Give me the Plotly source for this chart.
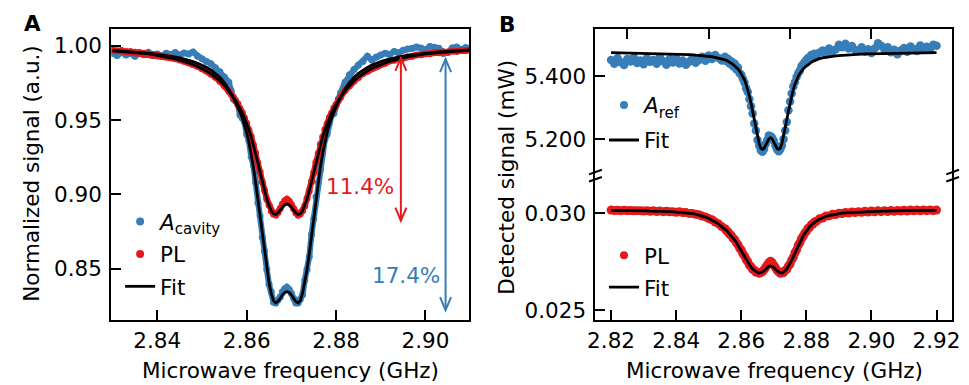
import plotly.graph_objects as go

# ---------------- data ----------------
FREQ_A = [
    2.830, 2.831, 2.832, 2.833, 2.834, 2.835, 2.836, 2.837, 2.838, 2.839,
    2.840, 2.841, 2.842, 2.843, 2.844, 2.845, 2.846, 2.847, 2.848, 2.849,
    2.850, 2.851, 2.852, 2.853, 2.854, 2.855, 2.856,
    2.8565, 2.8570, 2.8575, 2.8580, 2.8585, 2.8590, 2.8595, 2.8600, 2.8605, 2.8610,
    2.8615, 2.8620, 2.8625, 2.8630, 2.8635, 2.8640, 2.8645, 2.8650, 2.8655, 2.8660,
    2.8665, 2.8670, 2.8675, 2.8680, 2.8685, 2.8690, 2.8695, 2.8700, 2.8705, 2.8710,
    2.8715, 2.8720, 2.8725, 2.8730, 2.8735, 2.8740, 2.8745, 2.8750, 2.8755, 2.8760,
    2.8765, 2.8770, 2.8775, 2.8780, 2.8785, 2.8790, 2.8795, 2.8800, 2.8805, 2.8810,
    2.882, 2.883, 2.884, 2.885, 2.886, 2.887, 2.888, 2.889, 2.890, 2.891,
    2.892, 2.893, 2.894, 2.895, 2.896, 2.897, 2.898, 2.899, 2.900, 2.901,
    2.902, 2.903, 2.904, 2.905, 2.906, 2.907, 2.908, 2.909, 2.910,
]
CAVITY_A = [
    0.9950, 0.9935, 0.9955, 0.9938, 0.9948, 0.9930, 0.9952, 0.9940, 0.9956, 0.9935,
    0.9945, 0.9930, 0.9950, 0.9942, 0.9955, 0.9938, 0.9952, 0.9945, 0.9958, 0.9930,
    0.9912, 0.9895, 0.9880, 0.9852, 0.9826, 0.9790, 0.9755,
    0.9700, 0.9642, 0.9632, 0.9610, 0.9535, 0.9515, 0.9490, 0.9405, 0.9360, 0.9255,
    0.9195, 0.9080, 0.8945, 0.8855, 0.8710, 0.8620, 0.8495, 0.8395, 0.8345, 0.8275,
    0.8270, 0.8290, 0.8310, 0.8345, 0.8365, 0.8375, 0.8360, 0.8335, 0.8300, 0.8270,
    0.8270, 0.8295, 0.8325, 0.8425, 0.8495, 0.8580, 0.8730, 0.8835, 0.8985, 0.9080,
    0.9165, 0.9285, 0.9370, 0.9405, 0.9480, 0.9535, 0.9545, 0.9600, 0.9642, 0.9682,
    0.9755, 0.9805, 0.9840, 0.9870, 0.9895, 0.9930, 0.9905, 0.9925, 0.9938, 0.9950,
    0.9942, 0.9962, 0.9952, 0.9970, 0.9978, 0.9982, 0.9992, 0.9985, 0.9972, 0.9996,
    0.9990, 0.9984, 0.9948, 0.9955, 0.9986, 0.9992, 0.9975, 0.9988, 0.9980,
]
PL_A = [
    0.9970, 0.9966, 0.9968, 0.9962, 0.9961, 0.9957, 0.9955, 0.9950, 0.9947, 0.9942,
    0.9938, 0.9932, 0.9927, 0.9920, 0.9913, 0.9905, 0.9896, 0.9886, 0.9874, 0.9862,
    0.9846, 0.9830, 0.9810, 0.9788, 0.9762, 0.9731, 0.9695,
    0.9675, 0.9656, 0.9630, 0.9608, 0.9578, 0.9551, 0.9514, 0.9479, 0.9433, 0.9389,
    0.9333, 0.9279, 0.9213, 0.9152, 0.9083, 0.9027, 0.8968, 0.8927, 0.8888, 0.8868,
    0.8862, 0.8878, 0.8905, 0.8935, 0.8958, 0.8968, 0.8955, 0.8932, 0.8903, 0.8876,
    0.8862, 0.8868, 0.8891, 0.8923, 0.8972, 0.9023, 0.9087, 0.9148, 0.9217, 0.9276,
    0.9337, 0.9386, 0.9437, 0.9476, 0.9518, 0.9548, 0.9582, 0.9605, 0.9634, 0.9653,
    0.9699, 0.9731, 0.9765, 0.9787, 0.9813, 0.9828, 0.9849, 0.9859, 0.9876, 0.9883,
    0.9897, 0.9902, 0.9914, 0.9917, 0.9927, 0.9929, 0.9938, 0.9939, 0.9947, 0.9947,
    0.9954, 0.9953, 0.9960, 0.9958, 0.9964, 0.9962, 0.9968, 0.9966, 0.9972,
]
FIT_CAVITY_A = [
    0.9969, 0.9967, 0.9965, 0.9963, 0.9961, 0.9959, 0.9956, 0.9953, 0.9950, 0.9947,
    0.9943, 0.9939, 0.9935, 0.9930, 0.9924, 0.9918, 0.9911, 0.9903, 0.9894, 0.9883,
    0.9870, 0.9855, 0.9837, 0.9815, 0.9788, 0.9753, 0.9710,
    0.9680, 0.9652, 0.9622, 0.9590, 0.9555, 0.9515, 0.9470, 0.9415, 0.9350, 0.9275,
    0.9185, 0.9080, 0.8965, 0.8845, 0.8720, 0.8600, 0.8495, 0.8405, 0.8335, 0.8285,
    0.8270, 0.8280, 0.8300, 0.8325, 0.8340, 0.8345, 0.8340, 0.8325, 0.8300, 0.8280,
    0.8270, 0.8285, 0.8335, 0.8405, 0.8495, 0.8600, 0.8720, 0.8845, 0.8965, 0.9080,
    0.9185, 0.9275, 0.9350, 0.9415, 0.9470, 0.9515, 0.9555, 0.9590, 0.9622, 0.9652,
    0.9710, 0.9753, 0.9788, 0.9815, 0.9837, 0.9855, 0.9870, 0.9883, 0.9894, 0.9903,
    0.9911, 0.9918, 0.9924, 0.9930, 0.9935, 0.9939, 0.9943, 0.9947, 0.9950, 0.9953,
    0.9956, 0.9959, 0.9961, 0.9963, 0.9965, 0.9967, 0.9969, 0.9971, 0.9972,
]
FIT_PL_A = [
    0.9966, 0.9964, 0.9962, 0.9960, 0.9958, 0.9955, 0.9952, 0.9949, 0.9945, 0.9941,
    0.9936, 0.9931, 0.9925, 0.9919, 0.9912, 0.9904, 0.9895, 0.9885, 0.9874, 0.9861,
    0.9847, 0.9830, 0.9811, 0.9789, 0.9763, 0.9733, 0.9697,
    0.9677, 0.9655, 0.9632, 0.9607, 0.9580, 0.9550, 0.9516, 0.9478, 0.9435, 0.9388,
    0.9335, 0.9278, 0.9215, 0.9150, 0.9085, 0.9025, 0.8970, 0.8925, 0.8890, 0.8870,
    0.8865, 0.8875, 0.8895, 0.8915, 0.8930, 0.8935, 0.8930, 0.8915, 0.8895, 0.8875,
    0.8865, 0.8870, 0.8890, 0.8925, 0.8970, 0.9025, 0.9085, 0.9150, 0.9215, 0.9278,
    0.9335, 0.9388, 0.9435, 0.9478, 0.9516, 0.9550, 0.9580, 0.9607, 0.9632, 0.9655,
    0.9697, 0.9733, 0.9763, 0.9789, 0.9811, 0.9830, 0.9847, 0.9861, 0.9874, 0.9885,
    0.9895, 0.9904, 0.9912, 0.9919, 0.9925, 0.9931, 0.9936, 0.9941, 0.9945, 0.9949,
    0.9952, 0.9955, 0.9958, 0.9960, 0.9962, 0.9964, 0.9966, 0.9968, 0.9970,
]

FREQ_B = [
    2.820, 2.821, 2.822, 2.823, 2.824, 2.825, 2.826, 2.827, 2.828, 2.829,
    2.830, 2.831, 2.832, 2.833, 2.834, 2.835, 2.836, 2.837, 2.838, 2.839,
    2.840, 2.841, 2.842, 2.843, 2.844, 2.845, 2.846, 2.847, 2.848, 2.849,
    2.850, 2.851, 2.852, 2.853, 2.854,
    2.8550, 2.8555, 2.8560, 2.8565, 2.8570, 2.8575, 2.8580, 2.8585, 2.8590, 2.8595,
    2.8600, 2.8605, 2.8610, 2.8615, 2.8620, 2.8625, 2.8630, 2.8635, 2.8640, 2.8645,
    2.8650, 2.8655, 2.8660, 2.8665, 2.8670, 2.8675, 2.8680, 2.8685, 2.8690, 2.8695,
    2.8700, 2.8705, 2.8710, 2.8715, 2.8720, 2.8725, 2.8730, 2.8735, 2.8740, 2.8745,
    2.8750, 2.8755, 2.8760, 2.8765, 2.8770, 2.8775, 2.8780, 2.8785, 2.8790, 2.8795,
    2.8800, 2.8805, 2.8810, 2.8815, 2.8820, 2.8825, 2.8830,
    2.884, 2.885, 2.886, 2.887, 2.888, 2.889, 2.890, 2.891, 2.892, 2.893,
    2.894, 2.895, 2.896, 2.897, 2.898, 2.899, 2.900, 2.901, 2.902, 2.903,
    2.904, 2.905, 2.906, 2.907, 2.908, 2.909, 2.910, 2.911, 2.912, 2.913,
    2.914, 2.915, 2.916, 2.917, 2.918, 2.919, 2.920,
]
REF_B = [
    5.452, 5.440, 5.458, 5.445, 5.436, 5.455, 5.447, 5.460, 5.442, 5.450,
    5.438, 5.457, 5.446, 5.452, 5.440, 5.461, 5.448, 5.437, 5.455, 5.444,
    5.458, 5.441, 5.450, 5.437, 5.446, 5.459, 5.443, 5.452, 5.462, 5.449,
    5.466, 5.455, 5.468, 5.458, 5.450,
    5.462, 5.448, 5.455, 5.440, 5.447, 5.432, 5.440, 5.422, 5.428, 5.410,
    5.405, 5.392, 5.380, 5.362, 5.350, 5.328, 5.305, 5.282, 5.250, 5.228,
    5.198, 5.180, 5.165, 5.160, 5.168, 5.185, 5.198, 5.212, 5.210, 5.205,
    5.195, 5.180, 5.168, 5.162, 5.168, 5.180, 5.200, 5.228, 5.255, 5.292,
    5.320, 5.345, 5.368, 5.382, 5.398, 5.410, 5.418, 5.432, 5.438, 5.445,
    5.452, 5.458, 5.455, 5.468, 5.462, 5.472, 5.468,
    5.475, 5.482, 5.470, 5.488, 5.478, 5.485, 5.500, 5.492, 5.503, 5.488,
    5.496, 5.484, 5.480, 5.492, 5.478, 5.486, 5.474, 5.488, 5.505, 5.497,
    5.485, 5.492, 5.476, 5.484, 5.470, 5.482, 5.490, 5.478, 5.495, 5.487,
    5.480, 5.498, 5.488, 5.494, 5.485, 5.500, 5.497,
]
FIT_REF_B = [
    5.4750, 5.4748, 5.4747, 5.4746, 5.4745, 5.4743, 5.4742, 5.4741, 5.4739, 5.4738,
    5.4736, 5.4734, 5.4732, 5.4730, 5.4728, 5.4726, 5.4723, 5.4720, 5.4717, 5.4714,
    5.4710, 5.4706, 5.4701, 5.4696, 5.4690, 5.4683, 5.4676, 5.4668, 5.4659, 5.4648,
    5.4636, 5.4621, 5.4604, 5.4584, 5.4560,
    5.4520, 5.4500, 5.4475, 5.4445, 5.4410, 5.4372, 5.4330, 5.4283, 5.4230, 5.4170,
    5.4090, 5.4000, 5.3890, 5.3750, 5.3580, 5.3380, 5.3150, 5.2890, 5.2620, 5.2340,
    5.2090, 5.1870, 5.1720, 5.1680, 5.1710, 5.1790, 5.1910, 5.2010, 5.2050, 5.2010,
    5.1910, 5.1790, 5.1710, 5.1680, 5.1720, 5.1870, 5.2090, 5.2340, 5.2620, 5.2890,
    5.3150, 5.3380, 5.3580, 5.3750, 5.3890, 5.4000, 5.4090, 5.4170, 5.4230, 5.4283,
    5.4330, 5.4372, 5.4410, 5.4445, 5.4475, 5.4500, 5.4520,
    5.4560, 5.4584, 5.4604, 5.4621, 5.4636, 5.4648, 5.4659, 5.4668, 5.4676, 5.4683,
    5.4690, 5.4696, 5.4701, 5.4706, 5.4710, 5.4714, 5.4717, 5.4720, 5.4723, 5.4726,
    5.4728, 5.4730, 5.4732, 5.4734, 5.4736, 5.4738, 5.4739, 5.4741, 5.4742, 5.4743,
    5.4745, 5.4746, 5.4747, 5.4748, 5.4750, 5.4750, 5.4751,
]
PL_B = [
    0.03016, 0.03014, 0.03015, 0.03013, 0.03015, 0.03013, 0.03014, 0.03012, 0.03013, 0.03013,
    0.03011, 0.03013, 0.03010, 0.03012, 0.03009, 0.03011, 0.03008, 0.03010, 0.03007, 0.03008,
    0.03005, 0.03007, 0.03003, 0.03003, 0.02999, 0.02999, 0.02994, 0.02992, 0.02985, 0.02981,
    0.02972, 0.02966, 0.02954, 0.02945, 0.02931,
    0.02920, 0.02909, 0.02903, 0.02890, 0.02884, 0.02870, 0.02863, 0.02847, 0.02838, 0.02820,
    0.02810, 0.02791, 0.02780, 0.02761, 0.02750, 0.02732, 0.02724, 0.02710, 0.02706, 0.02696,
    0.02695, 0.02690, 0.02694, 0.02698, 0.02708, 0.02720, 0.02733, 0.02745, 0.02752, 0.02744,
    0.02732, 0.02719, 0.02706, 0.02697, 0.02690, 0.02692, 0.02693, 0.02705, 0.02711, 0.02728,
    0.02738, 0.02759, 0.02773, 0.02796, 0.02811, 0.02834, 0.02848, 0.02868, 0.02880, 0.02897,
    0.02906, 0.02921, 0.02927, 0.02940, 0.02944, 0.02955, 0.02957,
    0.02971, 0.02975, 0.02985, 0.02986, 0.02994, 0.02993, 0.03000, 0.02998, 0.03004, 0.03001,
    0.03006, 0.03003, 0.03008, 0.03005, 0.03010, 0.03006, 0.03011, 0.03007, 0.03012, 0.03008,
    0.03013, 0.03009, 0.03014, 0.03010, 0.03014, 0.03011, 0.03015, 0.03011, 0.03016, 0.03012,
    0.03016, 0.03012, 0.03017, 0.03013, 0.03017, 0.03013, 0.03016,
]
FIT_PL_B = [
    0.03015, 0.03015, 0.03014, 0.03014, 0.03014, 0.03014, 0.03013, 0.03013, 0.03013, 0.03012,
    0.03012, 0.03012, 0.03011, 0.03011, 0.03010, 0.03010, 0.03009, 0.03009, 0.03008, 0.03007,
    0.03006, 0.03005, 0.03004, 0.03002, 0.03000, 0.02998, 0.02995, 0.02991, 0.02986, 0.02980,
    0.02973, 0.02965, 0.02955, 0.02944, 0.02932,
    0.02918, 0.02910, 0.02901, 0.02892, 0.02882, 0.02872, 0.02861, 0.02849, 0.02836, 0.02822,
    0.02808, 0.02793, 0.02778, 0.02763, 0.02748, 0.02734, 0.02722, 0.02712, 0.02704, 0.02698,
    0.02693, 0.02691, 0.02692, 0.02696, 0.02702, 0.02711, 0.02720, 0.02726, 0.02728, 0.02726,
    0.02720, 0.02711, 0.02702, 0.02696, 0.02692, 0.02691, 0.02695, 0.02703, 0.02713, 0.02726,
    0.02740, 0.02757, 0.02775, 0.02794, 0.02813, 0.02832, 0.02850, 0.02866, 0.02882, 0.02895,
    0.02908, 0.02919, 0.02929, 0.02938, 0.02946, 0.02953, 0.02959,
    0.02969, 0.02977, 0.02983, 0.02988, 0.02992, 0.02995, 0.02998, 0.03000, 0.03002, 0.03003,
    0.03004, 0.03005, 0.03006, 0.03007, 0.03008, 0.03008, 0.03009, 0.03009, 0.03010, 0.03010,
    0.03011, 0.03011, 0.03012, 0.03012, 0.03012, 0.03013, 0.03013, 0.03013, 0.03014, 0.03014,
    0.03014, 0.03014, 0.03015, 0.03015, 0.03015, 0.03015, 0.03015,
]

for arr in (CAVITY_A, PL_A, FIT_CAVITY_A, FIT_PL_A):
    assert len(arr) == len(FREQ_A), len(arr)
for arr in (REF_B, FIT_REF_B, PL_B, FIT_PL_B):
    assert len(arr) == len(FREQ_B), len(arr)

TICKS_XA = [2.84, 2.86, 2.88, 2.90]
TICKS_YA = [0.85, 0.90, 0.95, 1.00]
TICKS_XB = [2.82, 2.84, 2.86, 2.88, 2.90, 2.92]
TICKS_XB_TOP = [2.825, 2.850, 2.875, 2.900]
TICKS_YB_TOP = [5.200, 5.400]
TICKS_YB_BOT = [0.025, 0.030]

# arrows / annotations (data coordinates of panel A)
ARROW_PL = dict(x=2.8945, y_low=0.8824, y_high=0.9918, label="11.4%", lx=2.8854, ly=0.9056)
ARROW_CAV = dict(x=2.9045, y_low=0.8222, y_high=0.9911, label="17.4%", lx=2.8957, ly=0.8456)

# ---------------- styling ----------------
W, H = 969, 385
BLUE, RED, BLACK = "#377eb8", "#e41a1c", "#000000"
FONT = "DejaVu Sans"
FS = 21.5


def px(x):
    return x / W


def py(y):
    return 1 - y / H


A_X = [px(105), px(469)]
A_Y = [py(322), py(29)]
B_X = [px(597.3), px(960)]
B_SPLIT = 176.5
B_TOP_Y = [py(B_SPLIT), py(29)]
B_BOT_Y = [py(322), py(B_SPLIT)]

fig = go.Figure()

# Panel A
fig.add_trace(go.Scatter(x=FREQ_A, y=CAVITY_A, mode="lines+markers",
                         line=dict(color=BLUE, width=6), marker=dict(color=BLUE, size=7),
                         showlegend=False, xaxis="x", yaxis="y", hoverinfo="skip"))
fig.add_trace(go.Scatter(x=FREQ_A, y=PL_A, mode="lines+markers",
                         line=dict(color=RED, width=6), marker=dict(color=RED, size=7),
                         showlegend=False, xaxis="x", yaxis="y", hoverinfo="skip"))
fig.add_trace(go.Scatter(x=FREQ_A, y=FIT_CAVITY_A, mode="lines", line=dict(color=BLACK, width=2.8),
                         showlegend=False, xaxis="x", yaxis="y"))
fig.add_trace(go.Scatter(x=FREQ_A, y=FIT_PL_A, mode="lines", line=dict(color=BLACK, width=2.8),
                         showlegend=False, xaxis="x", yaxis="y"))

# Panel B top
fig.add_trace(go.Scatter(x=FREQ_B, y=REF_B, mode="markers", marker=dict(color=BLUE, size=8.5),
                         showlegend=False, xaxis="x2", yaxis="y2"))
fig.add_trace(go.Scatter(x=FREQ_B, y=FIT_REF_B, mode="lines", line=dict(color=BLACK, width=2.8),
                         showlegend=False, xaxis="x2", yaxis="y2"))
# Panel B bottom
fig.add_trace(go.Scatter(x=FREQ_B, y=PL_B, mode="markers", marker=dict(color=RED, size=9),
                         showlegend=False, xaxis="x3", yaxis="y3"))
fig.add_trace(go.Scatter(x=FREQ_B, y=FIT_PL_B, mode="lines", line=dict(color=BLACK, width=2.8),
                         showlegend=False, xaxis="x3", yaxis="y3"))


# legend entries
def leg_marker(name, color, legend, grp, xa, ya):
    fig.add_trace(go.Scatter(x=[None], y=[None], mode="markers", marker=dict(color=color, size=8),
                             name=name, legend=legend, legendgroup=grp, xaxis=xa, yaxis=ya))


def leg_line(legend, grp, xa, ya):
    fig.add_trace(go.Scatter(x=[None], y=[None], mode="lines", line=dict(color=BLACK, width=2.8),
                             name="Fit", legend=legend, legendgroup=grp, xaxis=xa, yaxis=ya))


leg_marker("<i>A</i><sub>cavity</sub>", BLUE, "legend", "a1", "x", "y")
leg_marker("PL", RED, "legend", "a2", "x", "y")
leg_line("legend", "a3", "x", "y")
leg_marker("<i>A</i><sub>ref</sub>", BLUE, "legend2", "b1", "x2", "y2")
leg_line("legend2", "b2", "x2", "y2")
leg_marker("PL", RED, "legend3", "c1", "x3", "y3")
leg_line("legend3", "c2", "x3", "y3")

tickfont = dict(family=FONT, size=FS, color="black")
common = dict(ticks="inside", ticklen=10, tickwidth=2, tickcolor="black", showline=True,
              linewidth=2, linecolor="black", showgrid=False, zeroline=False, tickfont=tickfont)

legend_common = dict(xanchor="left", yanchor="top", bgcolor="rgba(0,0,0,0)", borderwidth=0,
                     font=dict(family=FONT, size=FS, color="black"),
                     itemclick=False, itemdoubleclick=False)

fig.update_layout(
    width=W, height=H, margin=dict(l=0, r=0, t=0, b=0),
    paper_bgcolor="white", plot_bgcolor="white",
    font=dict(family=FONT, size=FS, color="black"),
    xaxis=dict(domain=A_X, anchor="y", range=[2.8297, 2.9098], tickvals=TICKS_XA,
               ticktext=[f"{v:.2f}" for v in TICKS_XA], mirror=True, **common),
    yaxis=dict(domain=A_Y, anchor="x", range=[0.8153, 1.0114], tickvals=TICKS_YA,
               ticktext=[f"{v:.2f}" for v in TICKS_YA], mirror=True, ticklabelstandoff=3, **common),
    xaxis2=dict(domain=B_X, anchor="y2", side="top", range=[2.8152, 2.9248], tickvals=TICKS_XB_TOP,
                showticklabels=False, **common),
    yaxis2=dict(domain=B_TOP_Y, anchor="x2", range=[5.0847, 5.5507], tickvals=TICKS_YB_TOP,
                ticktext=[f"{v:.3f}" for v in TICKS_YB_TOP], mirror=True, ticklabelstandoff=3, **common),
    xaxis3=dict(domain=B_X, anchor="y3", range=[2.8152, 2.9248], tickvals=TICKS_XB,
                ticktext=[f"{v:.2f}" for v in TICKS_XB], **common),
    yaxis3=dict(domain=B_BOT_Y, anchor="x3", range=[0.02447, 0.031942], tickvals=TICKS_YB_BOT,
                ticktext=[f"{v:.3f}" for v in TICKS_YB_BOT], mirror=True, ticklabelstandoff=3, **common),
    legend=dict(x=px(114), y=py(202), tracegroupgap=1.5, **legend_common),
    legend2=dict(x=px(606), y=py(85), tracegroupgap=4, **legend_common),
    legend3=dict(x=px(606), y=py(236), tracegroupgap=1, **legend_common),
)


def ann(text, x, y, **kw):
    d = dict(text=text, x=px(x), y=py(y), xref="paper", yref="paper", showarrow=False,
             xanchor="center", yanchor="middle")
    d.update(kw)
    return d


annotations = [
    ann("<b>A</b>", 24.5, 24),
    ann("<b>B</b>", 507.5, 24.5),
    ann("Microwave frequency (GHz)", 287, 372),
    ann("Microwave frequency (GHz)", 779, 372),
    ann("Normalized signal (a.u.)", 23, 175, textangle=-90),
    ann("Detected signal (mW)", 506, 178, textangle=-90),
]
shapes = []
for arr, col in ((ARROW_PL, RED), (ARROW_CAV, BLUE)):
    annotations.append(dict(text=arr["label"], x=arr["lx"], y=arr["ly"], xref="x", yref="y",
                            showarrow=False, xanchor="center", yanchor="middle",
                            font=dict(family=FONT, size=FS, color=col)))
    shapes.append(dict(type="line", xref="x", yref="y", x0=arr["x"], x1=arr["x"],
                       y0=arr["y_low"], y1=arr["y_high"], line=dict(color=col, width=2)))
    shapes.append(dict(type="path", xref="x", yref="y", xsizemode="pixel", ysizemode="pixel",
                       xanchor=arr["x"], yanchor=arr["y_high"],
                       path="M -5.5,-13 L 0,0 L 5.5,-13", line=dict(color=col, width=2)))
    shapes.append(dict(type="path", xref="x", yref="y", xsizemode="pixel", ysizemode="pixel",
                       xanchor=arr["x"], yanchor=arr["y_low"],
                       path="M -5.5,13 L 0,0 L 5.5,13", line=dict(color=col, width=2)))

# broken-axis marks
for sx in (597.3, 960.5):
    for sy in (173.0, 180.2):
        shapes.append(dict(type="line", xref="paper", yref="paper",
                           x0=px(sx - 6.5), y0=py(sy + 2.3), x1=px(sx + 6.5), y1=py(sy - 2.3),
                           line=dict(color="black", width=2)))

fig.update_layout(annotations=annotations, shapes=shapes)

fig.write_html("out.html", config={"displayModeBar": False},
               post_script="document.body.style.margin='0';")
